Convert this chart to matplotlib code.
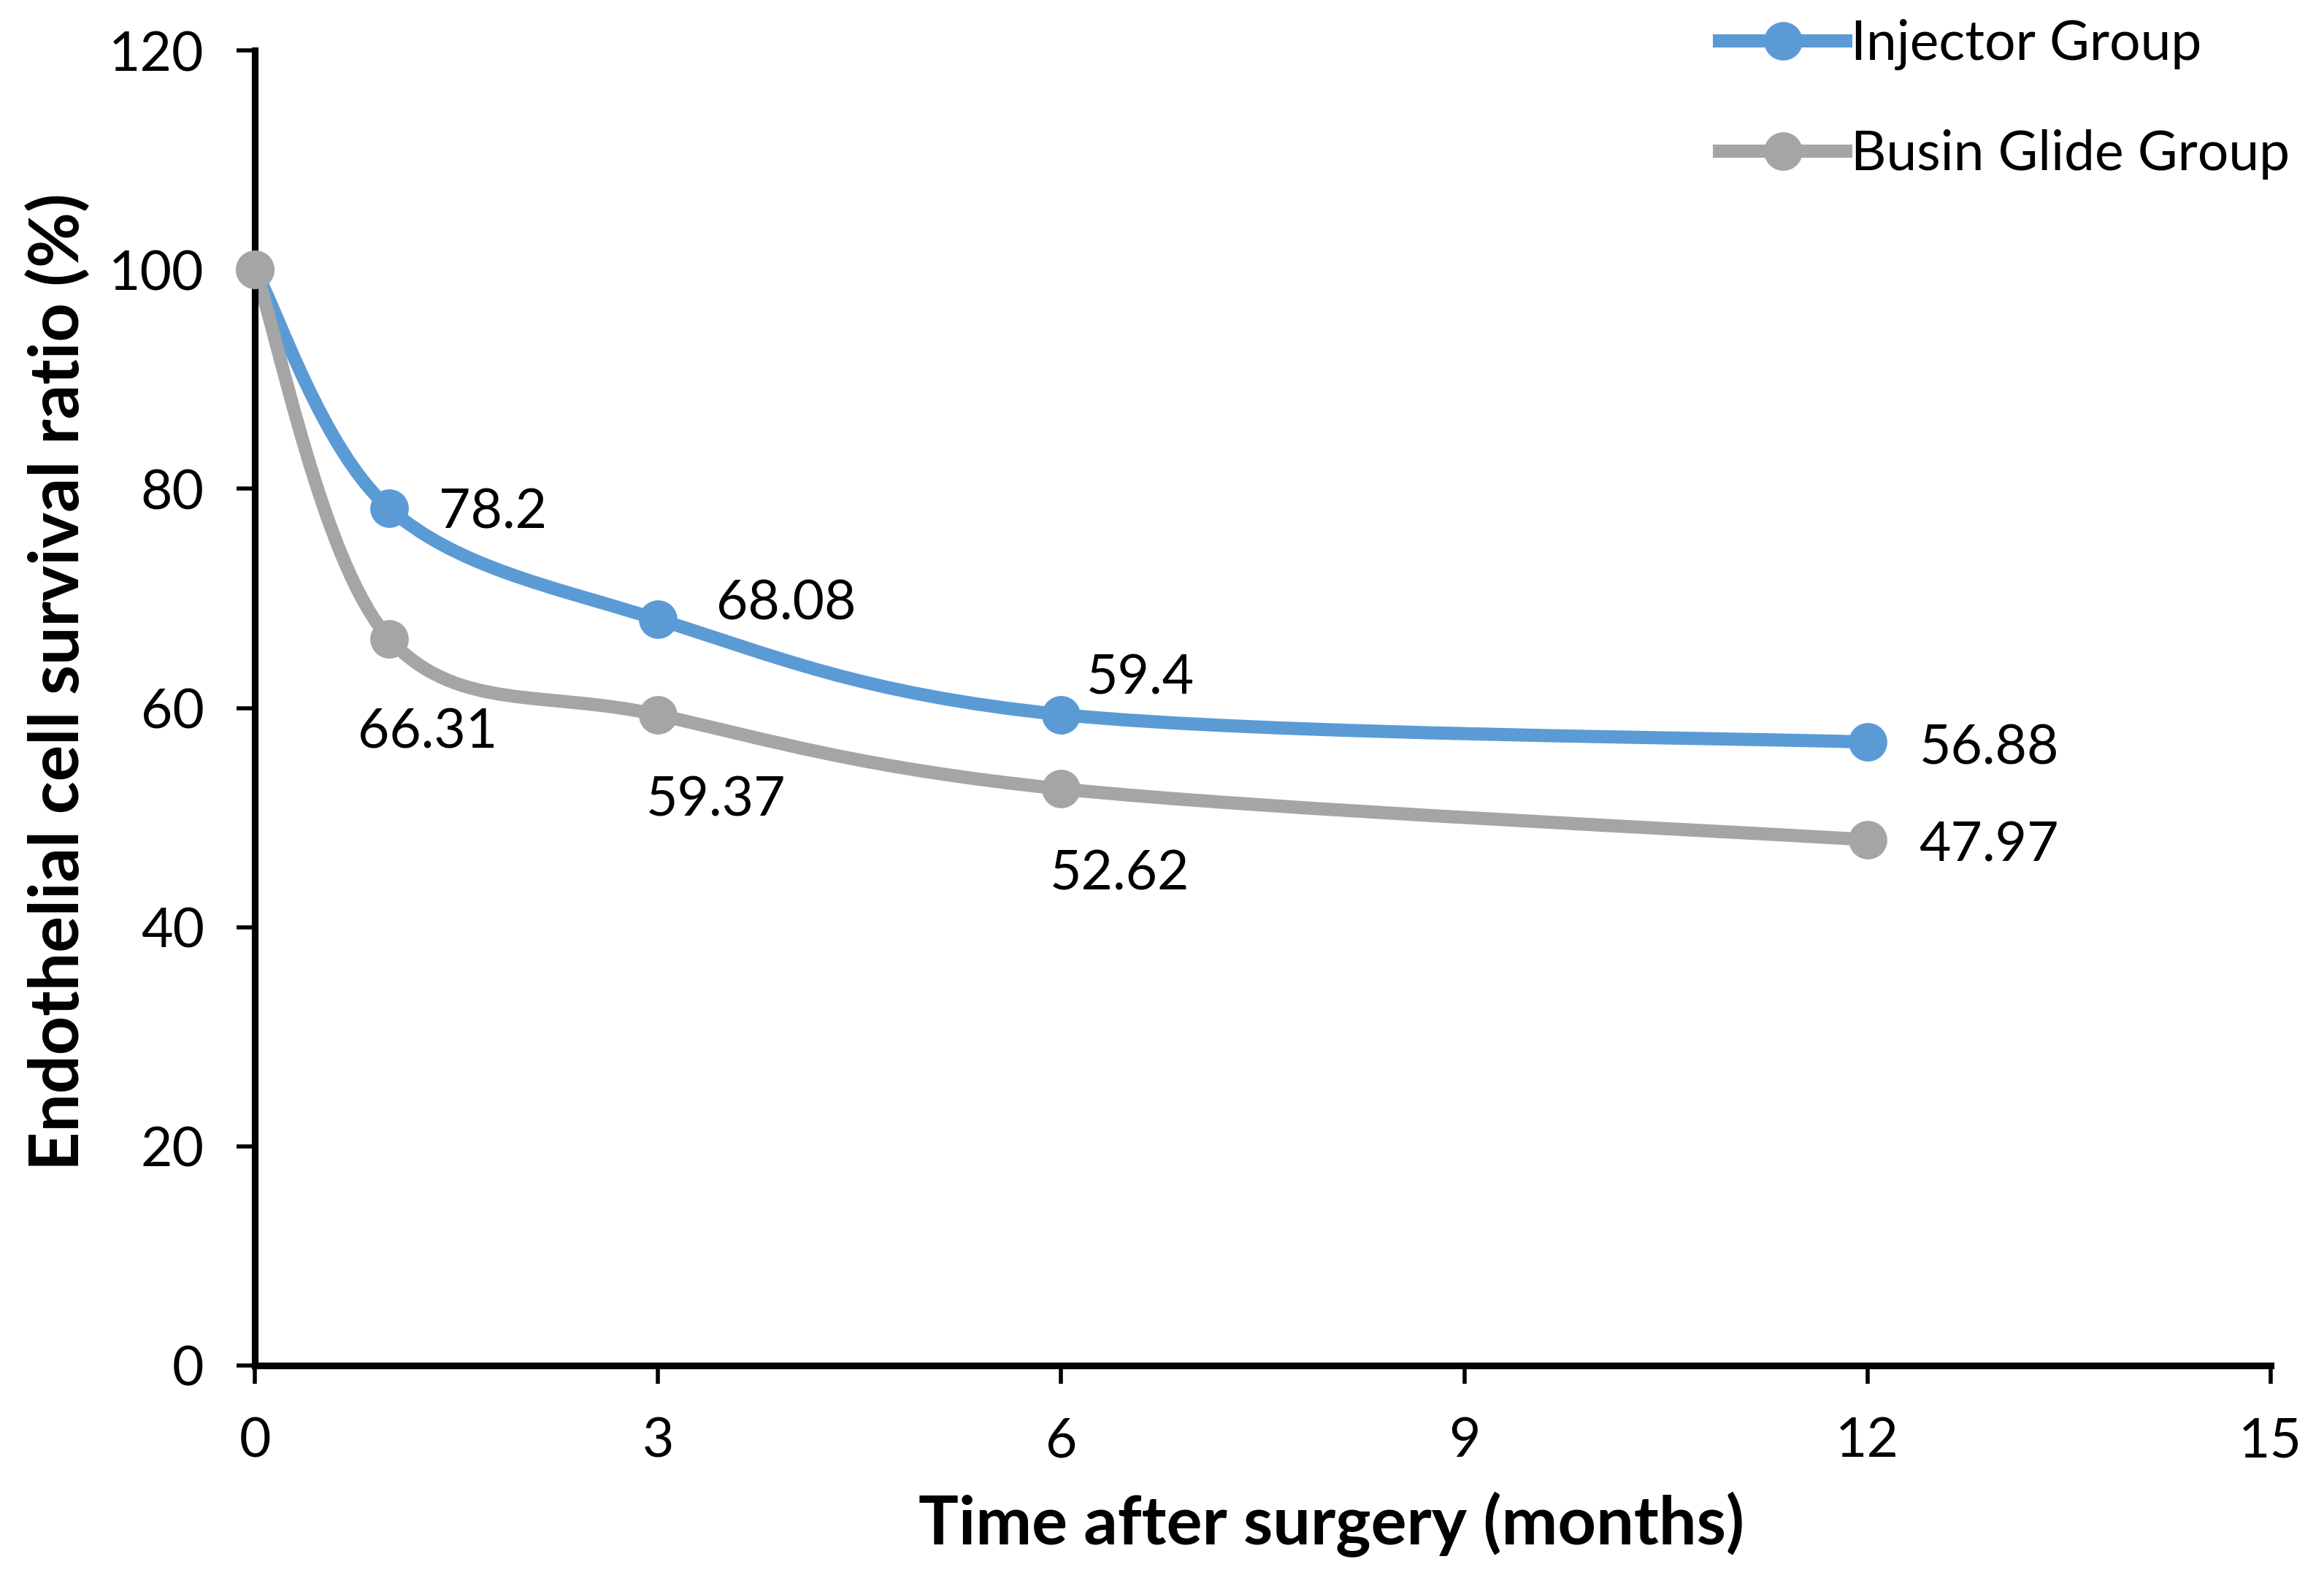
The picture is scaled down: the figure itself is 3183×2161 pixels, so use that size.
import numpy as np
import matplotlib
matplotlib.use("Agg")
import matplotlib.pyplot as plt
from matplotlib.path import Path
from matplotlib.patches import PathPatch
from matplotlib.lines import Line2D

plt.rcParams['font.family'] = ['Lato', 'DejaVu Sans']

# data
months = [0, 1, 3, 6, 12]
injector = [100, 78.2, 68.08, 59.4, 56.88]
busin = [100, 66.31, 59.37, 52.62, 47.97]
series_names = ['Injector Group', 'Busin Glide Group']
x_ticks = [0, 3, 6, 9, 12, 15]
y_ticks = [0, 20, 40, 60, 80, 100, 120]

blue = '#5B9BD5'
gray = '#A5A5A5'


def smooth_path(xs, ys):
    # Excel-like smoothed line: cubic Bezier segments through the points
    p = np.column_stack([xs, ys]).astype(float)
    n = len(p)
    verts = [p[0]]
    codes = [Path.MOVETO]
    for i in range(n - 1):
        prev = p[i - 1] if i > 0 else p[i]
        nxt = p[i + 2] if i + 2 < n else p[i + 1]
        c1 = p[i] + (p[i + 1] - prev) / 6.0
        c2 = p[i + 1] - (nxt - p[i]) / 6.0
        verts += [c1, c2, p[i + 1]]
        codes += [Path.CURVE4] * 3
    return Path(verts, codes)


fig = plt.figure(figsize=(15.915, 10.805), dpi=200)
ax = fig.add_axes([0.1097, 0.1347, 0.977 - 0.1097, 0.968 - 0.1347])

lw = 6.5
ms = 18
fs = 27
for ys, col in [(injector, blue), (busin, gray)]:
    patch = PathPatch(smooth_path(months, ys), facecolor='none', edgecolor=col,
                      lw=lw, capstyle='round', joinstyle='round', clip_on=False)
    ax.add_patch(patch)
    ax.plot(months, ys, 'o', color=col, markersize=ms, clip_on=False, zorder=3)

# data labels
inj_off = [None, (51, -2), (63, 7.5), (39, 18), (60, -3)]
bus_off = [None, (19, -46), (28.5, -42), (29, -42), (60, -3)]
for ys, offs in [(injector, inj_off), (busin, bus_off)]:
    for xv, yv, off in zip(months, ys, offs):
        if off is None:
            continue
        ax.annotate(f'{yv:g}', (xv, yv), xytext=off, textcoords='offset points',
                    ha='center', va='center', fontsize=fs)

ax.set_xlim(0, 15)
ax.set_ylim(0, 120)
ax.set_xticks(x_ticks)
ax.set_yticks(y_ticks)
for s in ['top', 'right']:
    ax.spines[s].set_visible(False)
for s in ['left', 'bottom']:
    ax.spines[s].set_linewidth(3.3)
ax.tick_params(axis='both', direction='out', length=9, width=2, labelsize=fs, pad=16)

fig.text(0.573, 0.034, 'Time after surgery (months)', ha='center', va='center',
         fontsize=33, fontweight='bold')
fig.text(0.025, 0.568, 'Endothelial cell survival ratio (%)', ha='center', va='center',
         rotation=90, fontsize=33.5, fontweight='bold')

handles = [Line2D([], [], color=blue, lw=lw, marker='o', markersize=ms),
           Line2D([], [], color=gray, lw=lw, marker='o', markersize=ms)]
fig.legend(handles, series_names, loc='upper left', bbox_to_anchor=(0.740, 0.988),
           frameon=False, fontsize=fs, handlelength=2.3, handletextpad=0.1,
           labelspacing=1.08, borderpad=0, borderaxespad=0)

fig.savefig('out.png', dpi=200)
